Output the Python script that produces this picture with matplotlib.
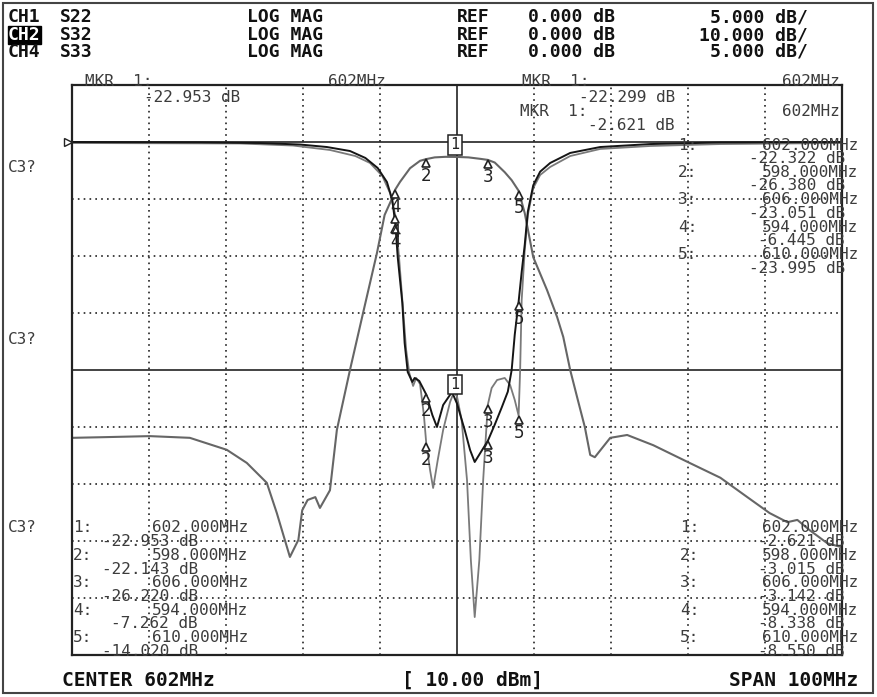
import matplotlib
matplotlib.use("Agg")
import matplotlib.pyplot as plt
import numpy as np
from matplotlib.patches import Rectangle
from matplotlib.transforms import offset_copy

# sweep: center 602 MHz, span 100 MHz, reference at 9th division
f_start, f_stop = 552, 652
ref_pos = 9

# S32 transmission (10 dB/div)
s32_f = [552.0, 555.6, 562.1, 567.3, 572.1, 574.7, 577.3, 578.6, 580.3, 581.4,
         581.9, 582.6, 583.6, 584.2, 585.5, 586.4, 588.1, 589.8, 591.6, 592.6,
         593.6, 594.0, 594.6, 595.9, 597.2, 598.0, 599.1, 600.5, 602.0, 603.5,
         605.0, 606.0, 606.9, 608.2, 609.1, 610.0, 610.8, 611.9, 613.7, 615.0,
         615.8, 616.7, 617.7, 618.6, 619.3, 619.9, 621.9, 624.1, 627.5, 631.9,
         636.2, 639.7, 642.6, 644.9, 646.2, 647.8, 650.1, 652.0]
s32_db = [-51.9, -51.8, -51.6, -51.9, -54.0, -56.3, -59.8, -65.1, -72.8, -69.8,
          -64.6, -62.8, -62.3, -64.2, -61.1, -50.5, -40.0, -30.0, -19.5, -12.8,
          -9.8, -8.3, -7.0, -4.6, -3.3, -3.0, -2.7, -2.6, -2.62, -2.7,
          -2.95, -3.14, -3.6, -5.3, -6.7, -8.55, -12.5, -20.2, -26.0, -30.7,
          -34.2, -40.0, -45.3, -50.0, -54.9, -55.3, -51.9, -51.4, -53.2, -56.1,
          -58.9, -62.3, -65.1, -66.7, -66.3, -68.1, -70.4, -71.1]

# S22 reflection (5 dB/div)
s22_f = [552.0, 568.6, 576.4, 581.6, 585.1, 588.1, 590.1, 591.7, 592.9, 593.6,
         594.0, 594.3, 594.9, 595.2, 595.6, 596.2, 596.5, 597.1, 598.0, 598.8,
         599.4, 600.2, 601.35, 602.0, 603.0, 603.7, 604.3, 605.1, 606.0, 606.9,
         607.8, 608.6, 609.1, 609.5, 610.0, 610.4, 610.8, 611.2, 611.9, 612.8,
         614.1, 616.7, 620.6, 627.1, 636.2, 652.0]
s22_db = [0.0, -0.03, -0.09, -0.22, -0.44, -0.79, -1.40, -2.28, -3.51, -5.09,
          -7.26, -10.09, -14.12, -17.63, -20.18, -21.05, -20.70, -20.96, -22.14, -23.95,
          -25.0, -23.07, -21.93, -22.95, -25.26, -27.02, -28.07, -27.2, -26.22, -24.8,
          -23.3, -21.9, -20.0, -16.9, -14.02, -11.4, -9.0, -6.1, -3.8, -2.6,
          -1.84, -0.96, -0.44, -0.18, -0.04, 0.0]

# S33 reflection (5 dB/div)
s33_f = [552.0, 573.8, 580.7, 585.5, 588.8, 590.7, 592.3, 593.3, 594.0, 594.5,
         595.0, 595.4, 595.8, 596.3, 596.7, 597.2, 597.7, 598.0, 598.5, 598.9,
         599.5, 600.2, 601.1, 601.6, 602.0, 602.6, 603.3, 603.8, 604.3, 604.9,
         605.4, 605.8, 606.0, 606.5, 607.2, 608.2, 608.9, 609.5, 610.0, 610.2,
         610.4, 610.8, 611.2, 611.9, 612.8, 614.1, 616.7, 620.6, 627.1, 636.2, 652.0]
s33_db = [-0.09, -0.13, -0.31, -0.70, -1.23, -1.84, -2.98, -4.47, -6.45, -10.35,
          -14.74, -18.25, -20.26, -21.40, -20.70, -21.23, -23.95, -26.38, -28.77, -30.35,
          -27.89, -25.26, -22.81, -21.93, -22.32, -24.39, -29.65, -36.67, -41.67, -36.67,
          -29.65, -25.26, -23.05, -21.58, -20.88, -20.70, -21.32, -22.63, -23.995, -20.0,
          -13.86, -9.47, -6.40, -4.04, -2.89, -2.19, -1.23, -0.61, -0.35, -0.18, -0.09]

# marker readouts
mkr_f = [602, 598, 606, 594, 610]
s22_mkr = [-22.953, -22.143, -26.220, -7.262, -14.020]
s32_mkr = [-2.621, -3.015, -3.142, -8.338, -8.550]
s33_mkr = [-22.322, -26.380, -23.051, -6.445, -23.995]

W, H = 878, 697
fig = plt.figure(figsize=(W / 100, H / 100), dpi=100)
fig.patch.set_facecolor("white")


def fx(x):
    return x / W


def fy(y):
    return 1 - y / H


ax = fig.add_axes([fx(72), fy(655), 770 / W, 570 / H])
ax.set_xlim(f_start, f_stop)
ax.set_ylim(0, 10)
ax.set_xticks([])
ax.set_yticks([])
for sp in ax.spines.values():
    sp.set_linewidth(1.6)
    sp.set_color("#222222")


def to_div(db, scale):
    return ref_pos + np.asarray(db) / scale


# graticule
for f in range(f_start + 10, f_stop, 10):
    if f == 602:
        ax.axvline(f, color="#222222", lw=1.2)
    else:
        ax.axvline(f, color="#222222", lw=1.2, ls=(0, (1, 2.5)))
for d in range(1, 10):
    if d in (5, ref_pos):
        ax.axhline(d, color="#222222", lw=1.2)
    else:
        ax.axhline(d, color="#222222", lw=1.2, ls=(0, (1, 2.5)))

# traces
ax.plot(s32_f, to_div(s32_db, 10), color="#666666", lw=1.5)
ax.plot(s33_f, to_div(s33_db, 5), color="#7a7a7a", lw=1.3)
ax.plot(s22_f, to_div(s22_db, 5), color="#151515", lw=1.4)

# reference position arrow
ref_tr = offset_copy(ax.transData, fig=fig, x=-4, y=0, units="dots")
ax.plot([f_start], [ref_pos], marker=">", ms=6, mfc="white", mec="#222222",
        transform=ref_tr, clip_on=False)

# markers
tri_tr = offset_copy(ax.transData, fig=fig, x=0, y=-4, units="dots")
num_tr = offset_copy(ax.transData, fig=fig, x=0, y=-17, units="dots")
box_tr = offset_copy(ax.transData, fig=fig, x=-2, y=12, units="dots")
for vals, scale, box in [(s32_mkr, 10, True), (s22_mkr, 5, False), (s33_mkr, 5, True)]:
    divs = to_div(vals, scale)
    if box:
        # S22 and S33 share the same boxed "1" at 602 MHz
        ax.text(mkr_f[0], divs[0], "1", transform=box_tr, ha="center", va="center",
                fontsize=11, family="DejaVu Sans Mono", color="#222222",
                bbox=dict(boxstyle="square,pad=0.15", fc="white", ec="#222222", lw=1.1))
    for i in range(1, 5):
        ax.plot([mkr_f[i]], [divs[i]], marker="^", ms=6, mfc="white",
                mec="#222222", mew=1.2, transform=tri_tr)
        ax.text(mkr_f[i], divs[i], str(i + 1), transform=num_tr, ha="center",
                va="center", fontsize=12, color="#222222")

# header
bold = dict(family="DejaVu Sans Mono", weight="bold", fontsize=13, va="center")
rows = [(17, "CH1", "S22", "5.000 dB/"), (35, "CH2", "S32", "10.000 dB/"),
        (52, "CH4", "S33", "5.000 dB/")]
for y, ch, sp, sc in rows:
    if ch == "CH2":
        fig.text(fx(8), fy(y), ch, color="white", **bold,
                 bbox=dict(boxstyle="square,pad=0.02", fc="black", ec="black"))
    else:
        fig.text(fx(8), fy(y), ch, color="#111111", **bold)
    fig.text(fx(60), fy(y), sp, color="#111111", **bold)
    fig.text(fx(247), fy(y), "LOG MAG", color="#111111", **bold)
    fig.text(fx(457), fy(y), "REF", color="#111111", **bold)
    fig.text(fx(528), fy(y), "0.000 dB", color="#111111", **bold)
    fig.text(fx(808), fy(y), sc, ha="right", color="#111111", **bold)

bold_foot = dict(bold, fontsize=14)
fig.text(fx(62), fy(680), "CENTER 602MHz", color="#111111", **bold_foot)
fig.text(fx(473), fy(680), "[ 10.00 dBm]", ha="center", color="#111111", **bold_foot)
fig.text(fx(858), fy(680), "SPAN 100MHz", ha="right", color="#111111", **bold_foot)

# thin annotation text
thin = dict(family="DejaVu Sans Mono", fontsize=11.5, color="#3c3c3c", va="center")
for y in (167, 340, 527):
    fig.text(fx(8), fy(y), "C3?", **thin)

fig.text(fx(85), fy(82), "MKR  1:", **thin)
fig.text(fx(328), fy(82), "602MHz", **thin)
fig.text(fx(240), fy(97), "-22.953 dB", ha="right", **thin)
fig.text(fx(522), fy(82), "MKR  1:", **thin)
fig.text(fx(840), fy(82), "602MHz", ha="right", **thin)
fig.text(fx(675), fy(97), "-22.299 dB", ha="right", **thin)
fig.text(fx(520), fy(112), "MKR  1:", **thin)
fig.text(fx(840), fy(112), "602MHz", ha="right", **thin)
fig.text(fx(675), fy(126), "-2.621 dB", ha="right", **thin)


def marker_table(vals, y0, x_lab, x_mhz, x_db):
    for i, (f, v) in enumerate(zip(mkr_f, vals)):
        y = y0 + i * 27.4
        fig.text(fx(x_lab), fy(y), f"{i + 1}:", **thin)
        fig.text(fx(x_mhz), fy(y), f"{f:.3f}MHz", ha="right", **thin)
        fig.text(fx(x_db), fy(y + 13.6), f"{v:.3f} dB", ha="right", **thin)


marker_table(s33_mkr, 145, 678, 858, 845)
marker_table(s22_mkr, 528, 73, 248, 198)
marker_table(s32_mkr, 528, 680, 858, 845)

# outer frame
fig.patches.append(Rectangle((fx(3), fy(693)), 870 / W, 690 / H, transform=fig.transFigure,
                             fill=False, ec="#444444", lw=1.5))

fig.savefig("out.png", dpi=100)
